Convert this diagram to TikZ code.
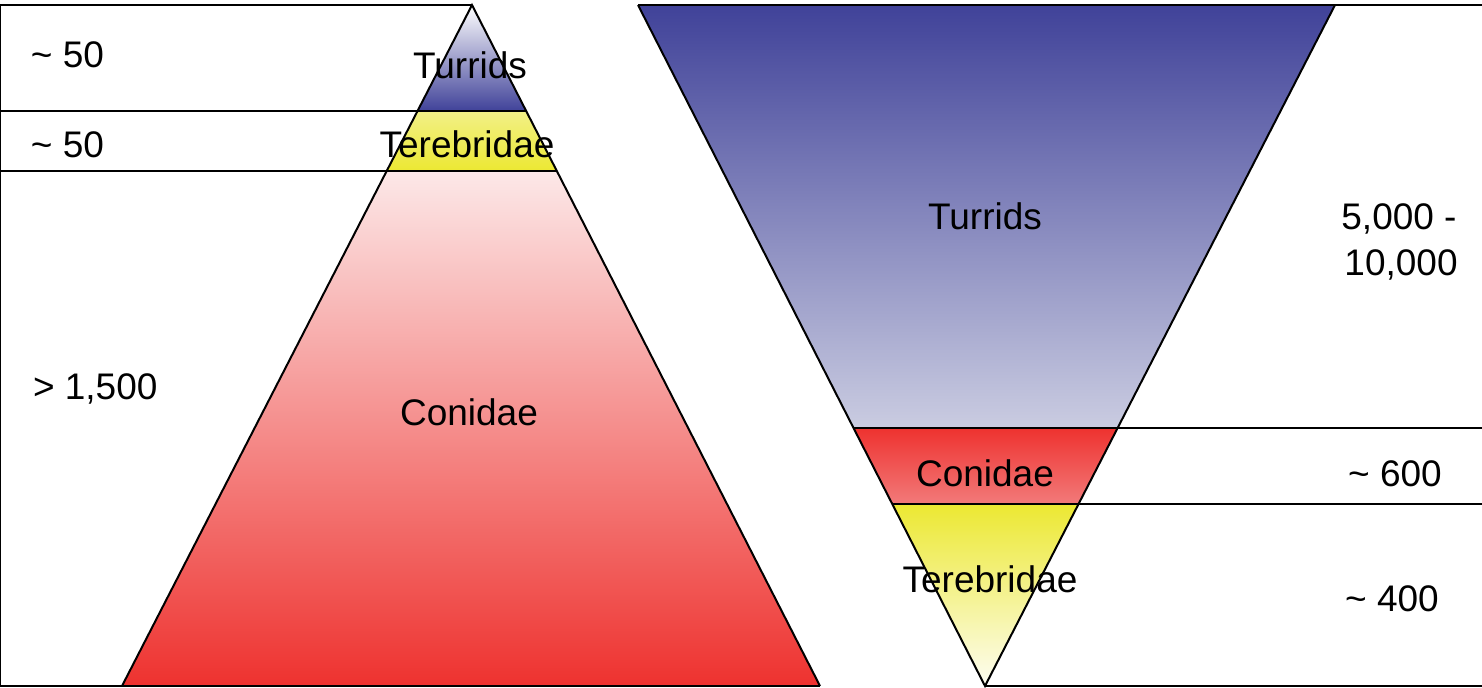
\documentclass[tikz,border=0pt]{standalone}
\usepackage{fontspec}
\setmainfont{Liberation Sans}
\definecolor{turrBlue}{RGB}{64,66,153}
\definecolor{turrLight}{RGB}{202,204,225}
\definecolor{conRed}{RGB}{238,50,47}
\definecolor{conPale}{RGB}{252,232,232}
\definecolor{conLight}{RGB}{242,122,122}
\definecolor{terYellow}{RGB}{236,232,50}
\definecolor{terPale}{RGB}{242,240,135}
\definecolor{terWhite}{RGB}{253,253,242}
\begin{document}
\begin{tikzpicture}[x=0.5pt,y=0.5pt,line width=1pt,
  lbl/.style={font=\fontsize{18.5}{23}\selectfont, inner sep=0pt, anchor=base},
  lblw/.style={lbl, anchor=base west}]
\useasboundingbox (0,0) rectangle (1482,-687);
% ---- left pyramid fills
\shade[top color=white, bottom color=turrBlue] (472,-5) -- (526,-111) -- (418,-111) -- cycle;
\shade[top color=terPale, bottom color=terYellow] (418,-111) -- (526,-111) -- (557,-171) -- (387,-171) -- cycle;
\shade[top color=conPale, bottom color=conRed] (387,-171) -- (557,-171) -- (820,-686) -- (122,-686) -- cycle;
% ---- left outlines
\draw (472,-5) -- (0,-5) -- (0,-686) -- (820,-686);
\draw (122,-686) -- (472,-5) -- (820,-686);
\draw (0,-111) -- (526,-111);
\draw (0,-171) -- (557,-171);
% ---- right funnel fills
\shade[top color=turrBlue, bottom color=turrLight] (638,-5) -- (1335,-5) -- (1118,-428) -- (853,-428) -- cycle;
\shade[top color=conRed, bottom color=conLight] (853,-428) -- (1118,-428) -- (1079,-504) -- (892,-504) -- cycle;
\shade[top color=terYellow, bottom color=terWhite] (892,-504) -- (1079,-504) -- (985,-686) -- cycle;
% ---- right outlines
\draw (638,-5) -- (1482,-5);
\draw (638,-5) -- (985,-686) -- (1335,-5);
\draw (853,-428) -- (1482,-428);
\draw (892,-504) -- (1482,-504);
\draw (985,-686) -- (1482,-686);
% ---- left labels
\node[lblw] (n50a) at (30,-67) {\textasciitilde{} 50};
\node[lblw] (n50b) at (30,-157) {\textasciitilde{} 50};
\node[lblw] (n1500) at (32,-399) {> 1,500};
\node[lbl] (turrL) at (470,-78) {Turrids};
\node[lbl] (terL) at (467,-157) {Terebridae};
\node[lbl] (conL) at (469,-425) {Conidae};
% ---- right labels
\node[lbl] (turrR) at (985,-229) {Turrids};
\node[lbl] (n5000) at (1399,-229) {5,000 -};
\node[lbl] (n10000) at (1401,-275) {10,000};
\node[lbl] (conR) at (985,-486) {Conidae};
\node[lbl] (n600) at (1395,-486) {\textasciitilde{} 600};
\node[lbl] (terR) at (990,-592) {Terebridae};
\node[lbl] (n400) at (1392,-611) {\textasciitilde{} 400};
\end{tikzpicture}
\end{document}
